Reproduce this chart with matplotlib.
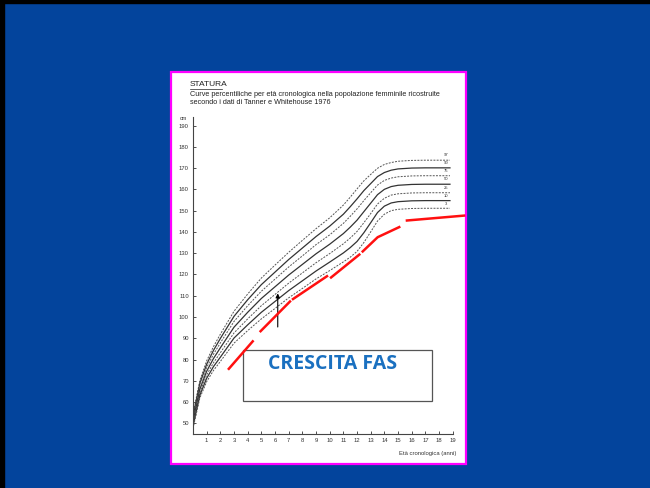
import matplotlib.pyplot as plt
from matplotlib.patches import Rectangle

# percentile curves (statura femminile, Tanner & Whitehouse)
ages = [0, 0.5, 1, 1.5, 2, 3, 4, 5, 6, 7, 8, 9, 10, 11, 11.5, 12, 12.5, 13, 13.5, 14, 14.5, 15, 16, 17, 18.8]
p97 = [54.4, 70.1, 79.4, 86.1, 91.9, 102.7, 110.8, 118.3, 124.4, 130.4, 136.0, 141.5, 146.6, 152.6, 156.3, 160.2, 164.0, 167.0, 169.9, 171.7, 172.6, 173.2, 173.6, 173.7, 173.7]
p90 = [53.3, 68.8, 77.8, 84.3, 89.9, 100.3, 108.1, 115.2, 121.1, 127.0, 132.4, 137.8, 142.7, 148.3, 151.8, 155.5, 159.4, 162.7, 166.0, 167.9, 169.0, 169.6, 170.0, 170.1, 170.1]
p75 = [52.2, 67.5, 76.3, 82.5, 87.8, 97.9, 105.3, 112.1, 117.8, 123.5, 128.7, 134.0, 138.6, 144.0, 147.3, 150.8, 154.7, 158.4, 162.0, 164.2, 165.3, 165.9, 166.3, 166.4, 166.4]
p50 = [51.0, 66.0, 74.5, 80.5, 85.5, 95.2, 102.2, 108.7, 114.2, 119.7, 124.7, 129.7, 134.2, 139.2, 142.2, 145.5, 149.5, 153.5, 157.5, 160.0, 161.3, 161.9, 162.3, 162.4, 162.4]
p25 = [49.8, 64.5, 72.8, 78.5, 83.2, 92.5, 99.1, 105.3, 110.6, 115.9, 120.7, 125.5, 129.8, 134.4, 137.1, 140.2, 144.3, 148.6, 153.1, 155.8, 157.3, 157.9, 158.3, 158.4, 158.4]
p10 = [48.7, 63.2, 71.2, 76.7, 81.1, 90.1, 96.3, 102.2, 107.3, 112.4, 117.0, 121.6, 125.8, 130.1, 132.6, 135.5, 139.6, 144.3, 149.1, 152.1, 153.6, 154.2, 154.6, 154.7, 154.7]
p3 = [47.6, 61.9, 69.6, 74.9, 79.1, 87.7, 93.6, 99.1, 104.0, 109.0, 113.4, 117.9, 121.8, 125.9, 128.1, 130.8, 135.0, 140.0, 145.1, 148.3, 150.0, 150.6, 151.0, 151.1, 151.1]
curves = [(p97, '97', False), (p90, '90', True), (p75, '75', False), (p50, '50', True),
          (p25, '25', False), (p10, '10', True), (p3, '3', False)]

# red "crescita FAS" segments
fas_x = [[2.56, 4.43], [4.88, 7.16], [7.24, 9.88], [10.03, 12.24], [12.35, 13.51, 15.17], [15.56, 19.92]]
fas_y = [[75.2, 89.0], [92.9, 107.7], [108.1, 119.5], [118.2, 129.7], [130.4, 137.5, 142.5], [145.3, 147.7]]

arrow_age = 6.2
arrow_from, arrow_to = 94, 112.4

xticks = list(range(1, 20))
yticks = list(range(50, 200, 10))

narrow = ['Liberation Sans Narrow', 'Liberation Sans', 'DejaVu Sans']
plt.rcParams['font.family'] = narrow

fig = plt.figure(figsize=(6.5, 4.88), dpi=100)
fig.patch.set_facecolor('#03449c')
# dark edges of the slide
fig.add_artist(Rectangle((0, 1 - 3 / 488), 1, 3 / 488, transform=fig.transFigure, color='black', zorder=-2))
fig.add_artist(Rectangle((0, 0), 4 / 650, 1, transform=fig.transFigure, color='black', zorder=-2))
# white picture panel
fig.add_artist(Rectangle((171 / 650, 24 / 488), 295 / 650, 392 / 488, transform=fig.transFigure,
                         facecolor='white', edgecolor='#ff00ff', lw=1.6, zorder=-1))

ax = fig.add_axes([193 / 650, 54 / 488, 259.7 / 650, 317 / 488])
ax.set_facecolor('none')
ax.set_xlim(0, 19)
ax.set_ylim(45, 194)

for vals, lab, solid in curves:
    if solid:
        ax.plot(ages, vals, color='#333333', lw=0.9)
    else:
        ax.plot(ages, vals, color='#555555', lw=0.7, dashes=(2, 1.3))
    ax.text(18.5, vals[-1] + 1.3, lab, fontsize=3, color='#333333', ha='center', va='bottom')

for sx, sy in zip(fas_x, fas_y):
    ax.plot(sx, sy, color='#ff1010', lw=1.8, clip_on=False, zorder=6, solid_capstyle='butt')

ax.annotate('', xy=(arrow_age, arrow_to), xytext=(arrow_age, arrow_from),
            arrowprops=dict(arrowstyle='-|>', color='black', lw=0.8, mutation_scale=6), zorder=5)

ax.spines[['top', 'right']].set_visible(False)
for s in ['left', 'bottom']:
    ax.spines[s].set_color('#444444')
    ax.spines[s].set_linewidth(0.8)
ax.set_xticks(xticks)
ax.set_yticks(yticks)
ax.tick_params(direction='in', length=2, width=0.6, labelsize=4.2, colors='#333333', pad=3)

# text box
ax.add_patch(Rectangle((242.7 / 650, 87.3 / 488), 189 / 650, 50.7 / 488, transform=fig.transFigure,
                       facecolor='white', edgecolor='#555555', lw=0.9, zorder=4, clip_on=False))
ax.text(332.7 / 650, 1 - 364 / 488, 'CRESCITA FAS', transform=fig.transFigure, fontsize=14,
        fontweight='bold', color='#1a70c0', ha='center', va='center', zorder=5,
        family=['Liberation Sans Narrow', 'Open Sans', 'DejaVu Sans'])

# titles
fig.text(190 / 650, 1 - 85 / 488, 'STATURA', fontsize=6, color='#222222', va='center')
fig.add_artist(plt.Line2D([190 / 650, 222 / 650], [1 - 89 / 488, 1 - 89 / 488], color='#222222', lw=0.5))
fig.text(190 / 650, 1 - 94 / 488,
         'Curve percentiliche per età cronologica nella popolazione femminile ricostruite',
         fontsize=5.2, color='#222222', va='center')
fig.text(190 / 650, 1 - 102 / 488, 'secondo i dati di Tanner e Whitehouse 1976',
         fontsize=5.2, color='#222222', va='center')
fig.text(183 / 650, 1 - 118 / 488, 'cm', fontsize=4, color='#333333', ha='center', va='center')
fig.text(456 / 650, 1 - 453 / 488, 'Età cronologica (anni)', fontsize=4.2, color='#333333',
         ha='right', va='center')

fig.savefig('out.png', dpi=100, facecolor=fig.get_facecolor())
